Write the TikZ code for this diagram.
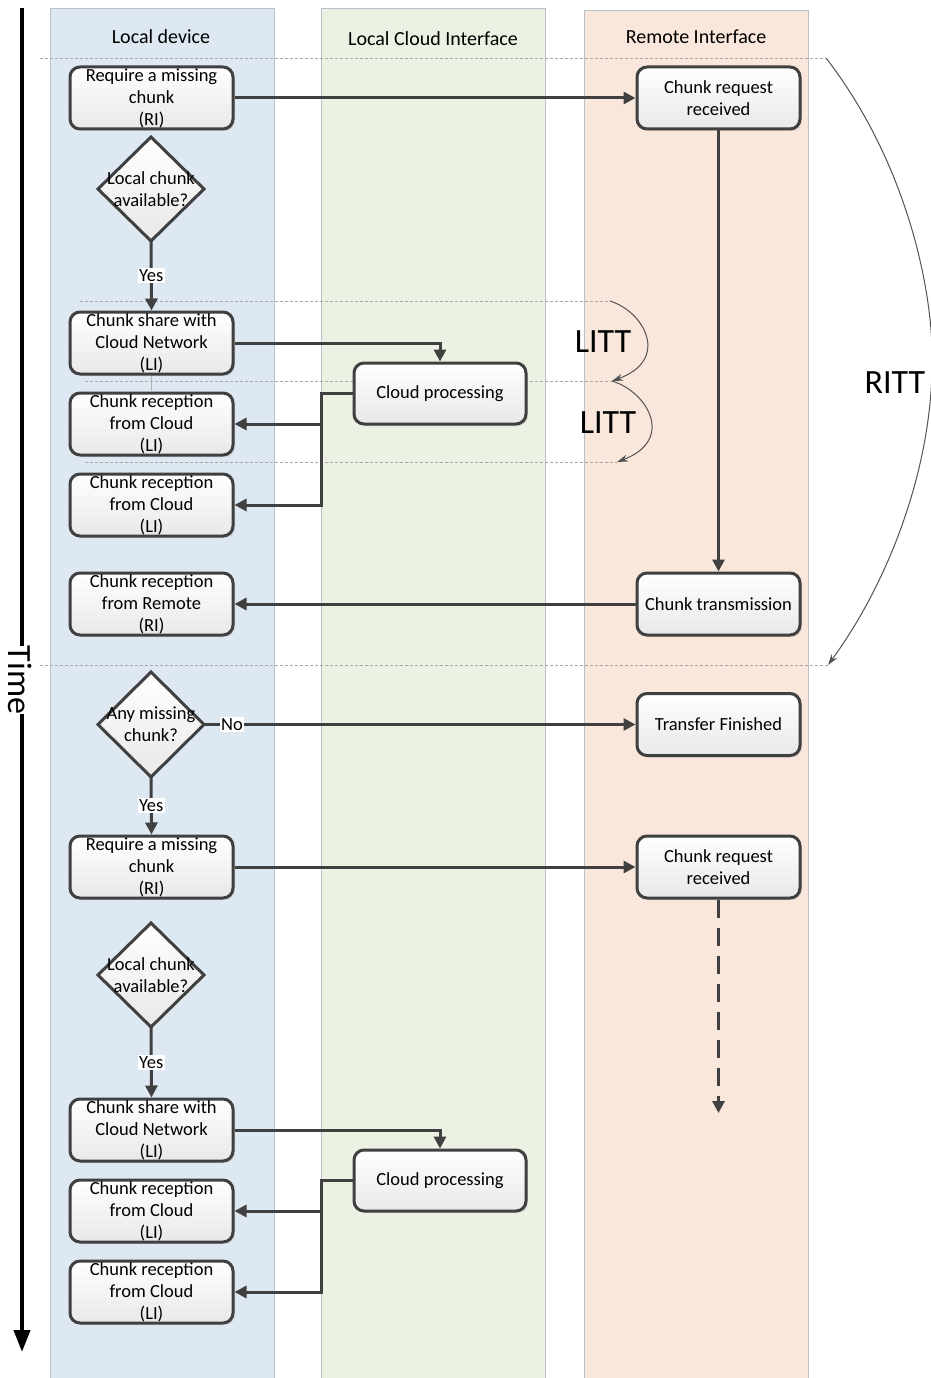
\documentclass[tikz,border=0pt]{standalone}
\usepackage{fontspec}
\setmainfont{Carlito}
\usetikzlibrary{arrows.meta,shadows,calc}
\definecolor{laneblue}{HTML}{DEE8F2}
\definecolor{lanegreen}{HTML}{EBF1E3}
\definecolor{lanepeach}{HTML}{F9E7DB}
\definecolor{laneline}{HTML}{B8C0C8}
\definecolor{boxline}{HTML}{404040}
\definecolor{boxbot}{HTML}{E8E8E8}
\definecolor{dashgray}{HTML}{A8A8A8}
\newcommand{\fs}{\fontsize{18.5}{22}\selectfont}
\newcommand{\ft}{\fontsize{20}{24}\selectfont}
\newcommand{\fb}{\fontsize{34}{40}\selectfont}
\begin{document}
\begin{tikzpicture}[x=1pt,y=-1pt,
  lane/.style={draw=laneline, line width=0.8pt},
  lanetitle/.style={font=\ft, inner sep=0pt},
  sep/.style={draw=dashgray, line width=0.5pt, dash pattern=on 3pt off 2pt},
  box/.style={draw=boxline, line width=3pt, rounded corners=10pt, top color=white, bottom color=boxbot,
    minimum width=163pt, minimum height=62pt, inner sep=0pt, align=center, font=\fs,
    drop shadow={shadow xshift=2pt, shadow yshift=-2pt, opacity=0.18}},
  cbox/.style={box, minimum width=172pt, minimum height=61pt},
  dia/.style={draw=boxline, line width=3pt, top color=white, bottom color=boxbot},
  diatext/.style={font=\fs, align=center, inner sep=0pt, text depth=0pt},
  conn/.style={draw=boxline, line width=3pt, -{Triangle[length=12pt,width=12pt]}},
  lbl/.style={fill=white, font=\fs, inner sep=1.5pt},
  thin/.style={draw=boxline!90, line width=1pt, -{Stealth[length=11pt,width=7pt]}},
  big/.style={font=\fb, inner sep=1pt}
]
\useasboundingbox (0,0) rectangle (930,1378);
\fill[white] (0,0) rectangle (930,1378);
% swimlanes
\filldraw[lane, fill=laneblue] (50,8) rectangle (274,1380);
\filldraw[lane, fill=lanegreen] (321,8) rectangle (545,1380);
\filldraw[lane, fill=lanepeach] (584,10) rectangle (808,1380);
\node[lanetitle] (t1) at (161,37) {Local device};
\node[lanetitle] (t2) at (433,39) {Local Cloud Interface};
\node[lanetitle] (t3) at (696,37) {Remote Interface};
% separators
\coordinate (s0a) at (40,58);  \coordinate (s0b) at (826,58);
\coordinate (s1a) at (80,301); \coordinate (s1b) at (610,301);
\coordinate (s2a) at (85,381); \coordinate (s2b) at (612,381);
\coordinate (s3a) at (85,462); \coordinate (s3b) at (617,462);
\coordinate (s4a) at (40,665); \coordinate (s4b) at (828,665);
\draw[sep] (s0a) -- (s0b);
\draw[sep] (s1a) -- (s1b);
\draw[sep] (s2a) -- (s2b);
\draw[sep] (s3a) -- (s3b);
\draw[sep] (s4a) -- (s4b);
% time axis
\coordinate (ta) at (22,8); \coordinate (tb) at (22,1352);
\draw[black, line width=4pt, -{Triangle[length=22pt,width=16pt]}] (ta) -- (tb);
\node[big, fill=white, rotate=-90, inner sep=0pt] (time) at (20,680) {Time};
% nodes - first round
\node[box] (r1) at (151.5,98) {Require a missing\\chunk\\(RI)};
\draw[dia] (151,137) -- (204,189) -- (151,241) -- (98,189) -- cycle;
\coordinate (d1s) at (151,241);
\node[diatext] (d1t) at (151,189) {Local chunk\\available?};
\node[box] (s1) at (151.5,343) {Chunk share with\\Cloud Network\\(LI)};
\node[box] (c1) at (151.5,424) {Chunk reception\\from Cloud\\(LI)};
\node[box] (c2) at (151.5,505) {Chunk reception\\from Cloud\\(LI)};
\node[box] (cr) at (151.5,604) {Chunk reception\\from Remote\\(RI)};
\node[cbox] (cp1) at (440,393.5) {Cloud processing};
\node[box] (q1) at (718.5,98) {Chunk request\\received};
\node[box] (ct) at (718.5,604) {Chunk transmission};
% second round
\draw[dia] (151,672) -- (204,724.5) -- (151,777) -- (98,724.5) -- cycle;
\coordinate (d2e) at (204,724.5); \coordinate (d2s) at (151,777);
\node[diatext] (d2t) at (151,724.5) {Any missing\\chunk?};
\node[box] (tf) at (718.5,724.5) {Transfer Finished};
\node[box] (r2) at (151.5,867) {Require a missing\\chunk\\(RI)};
\node[box] (q2) at (718.5,867) {Chunk request\\received};
\coordinate (qend) at (718.5,1113);
\draw[dia] (151,923) -- (204,975) -- (151,1027) -- (98,975) -- cycle;
\coordinate (d3s) at (151,1027);
\node[diatext] (d3t) at (151,975) {Local chunk\\available?};
\node[box] (s2) at (151.5,1130) {Chunk share with\\Cloud Network\\(LI)};
\node[cbox] (cp2) at (440,1180.5) {Cloud processing};
\node[box] (c3) at (151.5,1211) {Chunk reception\\from Cloud\\(LI)};
\node[box] (c4) at (151.5,1292) {Chunk reception\\from Cloud\\(LI)};
% connectors
\draw[conn] (r1.east) -- (q1.west);
\draw[conn] (d1s) -- (s1.north) node[lbl, midway] (y1) {Yes};
\draw[draw=gray!60, line width=0.6pt] (s1.south) -- (c1.north);
\draw[conn] (s1.east) -| (cp1.north);
\draw[conn] (cp1.west) -- ++(-31,0) |- (c1.east);
\draw[conn] (cp1.west) -- ++(-31,0) |- (c2.east);
\draw[conn] (q1.south) -- (ct.north);
\draw[conn] (ct.west) -- (cr.east);
\draw[conn] (d2e) -- (tf.west) node[lbl, pos=0.065] (n1) {No};
\draw[conn] (d2s) -- (r2.north) node[lbl, midway] (y2) {Yes};
\draw[conn] (r2.east) -- (q2.west);
\draw[conn, dash pattern=on 18pt off 10pt] (q2.south) -- (qend);
\draw[conn] (d3s) -- (s2.north) node[lbl, midway] (y3) {Yes};
\draw[conn] (s2.east) -| (cp2.north);
\draw[conn] (cp2.west) -- ++(-31,0) |- (c3.east);
\draw[conn] (cp2.west) -- ++(-31,0) |- (c4.east);
% LITT / RITT
\draw[thin] (s1b) .. controls (645,312) and (670,360) .. (s2b);
\draw[thin] (s2b) .. controls (648,392) and (675,440) .. (s3b);
\node[big] (l1) at (603,342) {LITT};
\node[big] (l2) at (608,423) {LITT};
\draw[thin] (s0b) .. controls (905,160) and (935,290) .. (932,370) .. controls (930,470) and (890,580) .. (s4b);
\node[big] (rt) at (895,383) {RITT};
\end{tikzpicture}
\end{document}
